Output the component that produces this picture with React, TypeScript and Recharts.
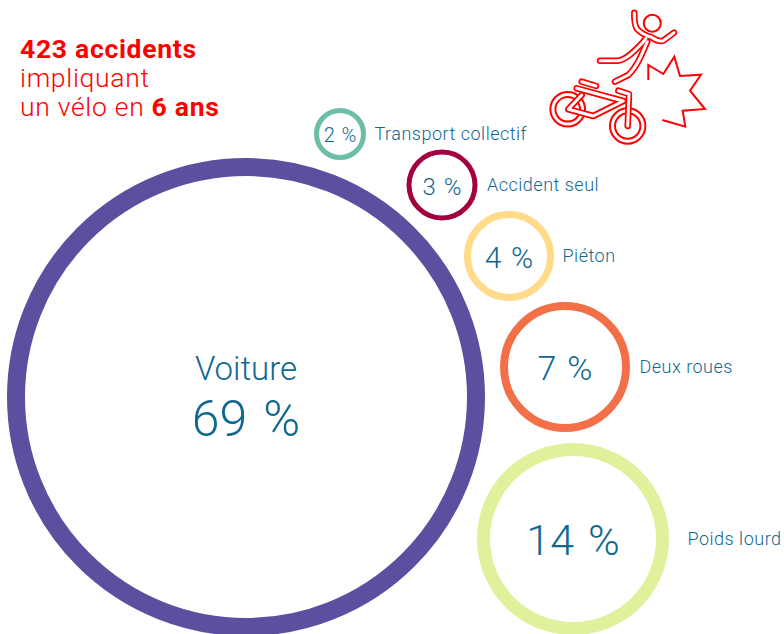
import { ScatterChart, Scatter, XAxis, YAxis, ZAxis } from 'recharts'

const categories = ['Voiture', 'Poids lourd', 'Deux roues', 'Piéton', 'Accident seul', 'Transport collectif']
const shares = [69, 14, 7, 4, 3, 2]
// bubble placement and outer diameter
const centerX = [246, 573, 565, 509, 442, 340]
const centerY = [397, 539, 367, 256, 185, 134]
const diameters = [478, 192, 130, 90, 71, 52]

const COLORS = ['#5c4f9f', '#e0f19c', '#f26f47', '#ffdb8a', '#a3003f', '#6dbea8']
const RING = [18, 13, 8, 7, 5, 5]
const VALUE_FONT = [50, 43, 34, 30, 24, 20]
const NAME_GAP = [0, 19, 10, 9, 10, 9]

const FONT = 'Roboto, sans-serif'
const TEXT = '#11688f'
const RED = '#ff0000'

const data = categories.map((name, i) => ({
  name,
  share: shares[i],
  x: centerX[i],
  y: centerY[i],
  z: diameters[i],
  index: i,
}))

function Bubble(props: any) {
  const { cx, cy, size, payload } = props
  const i = payload.index
  const ring = RING[i]
  const r = size / 2 - ring / 2
  const inside = NAME_GAP[i] === 0
  return (
    <g>
      <circle cx={cx} cy={cy} r={r} fill="#fff" stroke={COLORS[i]} strokeWidth={ring} />
      <text
        x={cx}
        y={inside ? cy + 39 : cy + VALUE_FONT[i] * 0.36 + 1}
        textAnchor="middle"
        fontFamily={FONT}
        fontWeight={300}
        fontSize={VALUE_FONT[i]}
        wordSpacing={VALUE_FONT[i] * 0.08}
        fill={TEXT}
      >
        {payload.share} %
      </text>
      {inside ? (
        <text x={cx} y={cy - 17} textAnchor="middle" fontFamily={FONT} fontWeight={300} fontSize={33} fill={TEXT}>
          {payload.name}
        </text>
      ) : (
        <text
          x={cx + size / 2 + NAME_GAP[i] - 0.5}
          y={cy + 6}
          fontFamily={FONT}
          fontWeight={300}
          fontSize={18}
          letterSpacing={0.5}
          fill={TEXT}
        >
          {payload.name}
        </text>
      )}
    </g>
  )
}

const TUBES = [
  'M634.3 12.7 Q634 24 637 29 Q643 35 651.7 37.3 Q658 42 663.3 40.7 L674 32.7',
  'M600 60.7 L618 60.7 Q624 60 631.7 53.3 Q641 45 646 38.3',
  'M615 81.7 L628.3 75 Q634 70 640 58.3 L647.3 41.7',
  'M576.7 88.3 L623.3 101 L593.3 116 L568.3 109.3 L581.7 95',
  'M581.7 81.7 L596 86',
  'M618.3 90.7 L629 94 L627.7 126',
]

function CrashIcon() {
  return (
    <svg width={784} height={634} style={{ position: 'absolute', left: 0, top: 0 }}>
      <g fill="none" strokeLinecap="round" strokeLinejoin="round">
        <circle cx={652.3} cy={23.3} r={8.5} stroke={RED} strokeWidth={2} />
        <circle cx={567.7} cy={109.3} r={17.3} stroke={RED} strokeWidth={2} />
        <circle cx={567.7} cy={109.3} r={12.3} stroke={RED} strokeWidth={2} />
        <circle cx={627.7} cy={126} r={17.7} stroke={RED} strokeWidth={2} />
        <circle cx={627.7} cy={126} r={12.7} stroke={RED} strokeWidth={2} />
        {TUBES.map((d) => (
          <path key={d} d={d} stroke={RED} strokeWidth={6.5} />
        ))}
        {TUBES.map((d) => (
          <path key={d} d={d} stroke="#fff" strokeWidth={3} />
        ))}
        <path
          d="M648.3 80 L648.3 65 L663.3 74 L674.3 56.7 L680 76 L701 74.7 L690 90.7 L705 109 L682.7 110.7 L685.3 126.7 L662.3 120"
          stroke={RED}
          strokeWidth={2}
          strokeLinecap="butt"
          strokeLinejoin="miter"
        />
      </g>
    </svg>
  )
}

export default function App() {
  return (
    <div style={{ position: 'absolute', left: 0, top: 0, width: 784, height: 634, background: '#fff', overflow: 'hidden' }}>
      <ScatterChart width={784} height={634} margin={{ top: 0, right: 0, bottom: 0, left: 0 }}>
        <XAxis type="number" dataKey="x" domain={[0, 784]} hide />
        <YAxis type="number" dataKey="y" domain={[0, 634]} reversed hide />
        <ZAxis type="number" dataKey="z" domain={[0, 1000]} range={[0, 1000]} />
        <Scatter data={data} shape={Bubble} isAnimationActive={false} />
      </ScatterChart>
      <CrashIcon />
      <div
        style={{
          position: 'absolute',
          left: 20,
          top: 34,
          fontFamily: FONT,
          fontWeight: 300,
          fontSize: 26.5,
          lineHeight: '29px',
          letterSpacing: 0.7,
          color: RED,
          whiteSpace: 'nowrap',
        }}
      >
        <div style={{ fontWeight: 700 }}>423 accidents</div>
        <div>impliquant</div>
        <div>
          un vélo en <b style={{ fontWeight: 700 }}>6 ans</b>
        </div>
      </div>
    </div>
  )
}
